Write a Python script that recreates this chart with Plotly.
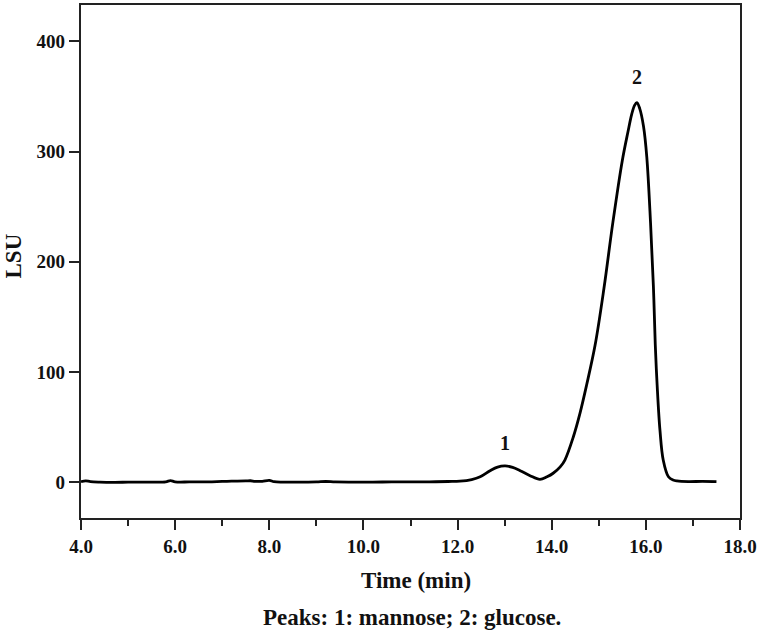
import plotly.graph_objects as go

# chromatogram
time_min = [4.0, 4.1, 4.2, 4.4, 4.7, 5.0, 5.4, 5.8, 5.9, 6.0, 6.3, 6.7, 7.0, 7.2,
            7.5, 7.6, 7.7, 7.85, 8.0, 8.1, 8.3, 8.6, 9.0, 9.2, 9.4, 9.8, 10.2, 10.6,
            11.0, 11.4, 11.8, 12.05, 12.3, 12.48, 12.69, 12.85, 13.01, 13.17, 13.33,
            13.54, 13.75, 13.9, 14.03, 14.18, 14.28, 14.46, 14.60, 14.74, 14.92,
            15.11, 15.30, 15.50, 15.62, 15.70, 15.76, 15.81, 15.87, 15.95,
            16.02, 16.10, 16.16, 16.20, 16.24, 16.30, 16.37, 16.48, 16.58,
            16.66, 16.9, 17.2, 17.5]
lsu = [0.5, 1.3, 0.6, 0.2, 0.0, 0.1, 0.2, 0.4, 1.5, 0.4, 0.3, 0.4, 0.8, 1.0,
       1.2, 1.4, 0.8, 0.9, 1.8, 0.5, 0.2, 0.1, 0.3, 0.7, 0.3, 0.2, 0.2, 0.3,
       0.3, 0.4, 0.7, 1.0, 2.5, 5.0, 10.5, 13.8, 14.8, 13.5, 10.5,
       6.0, 2.7, 5.0, 8.2, 14.0, 20.2, 41.3, 62.5, 88.0, 124.0,
       176.0, 236.0, 292.0, 318.0, 334.0, 342.0, 344.5, 339.0, 323.0,
       295.0, 235.0, 178.0, 125.0, 88.0, 47.0, 20.0, 5.0, 2.0,
       1.2, 0.6, 0.8, 0.6]

peak_labels = ["1", "2"]
peak_x = [13.0, 15.81]
peak_y = [35.6, 367.5]

FONT = "Liberation Serif, Times New Roman, serif"

fig = go.Figure()
fig.add_trace(go.Scatter(
    x=time_min, y=lsu, mode="lines",
    line=dict(color="black", width=2.8, shape="spline", smoothing=1.0),
    showlegend=False, hoverinfo="skip",
))

for lab, px, py in zip(peak_labels, peak_x, peak_y):
    fig.add_annotation(x=px, y=py, text=lab, showarrow=False,
                       font=dict(family=FONT, size=20, color="#111", weight="bold"))

axis_common = dict(
    showline=True, linecolor="#222", linewidth=2.2, mirror=True,
    ticks="outside", tickwidth=2, tickcolor="#222", ticklen=10,
    showgrid=False, zeroline=False, automargin=False,
    tickfont=dict(family=FONT, size=19, color="#111", weight="bold"),
)

fig.update_xaxes(range=[4, 18], dtick=2, tick0=4, tickformat=".1f",
                 minor=dict(ticks="outside", dtick=1, ticklen=6, tickwidth=2, tickcolor="#222"),
                 **axis_common)
fig.update_yaxes(range=[-32.4, 433], dtick=100, tick0=0, **axis_common)

fig.add_annotation(xref="paper", yref="paper", x=0.509, y=-0.121, text="Time (min)",
                   showarrow=False, yanchor="middle",
                   font=dict(family=FONT, size=23, color="#111", weight="bold"))
fig.add_annotation(xref="paper", yref="paper", x=0.503, y=-0.193,
                   text="Peaks: 1: mannose; 2: glucose.",
                   showarrow=False, yanchor="middle",
                   font=dict(family=FONT, size=23, color="#111", weight="bold"))
fig.add_annotation(xref="paper", yref="paper", x=-0.103, y=0.51, text="LSU",
                   showarrow=False, textangle=-90, xanchor="center", yanchor="middle",
                   font=dict(family=FONT, size=23, color="#111", weight="bold"))

fig.update_layout(
    width=760, height=634,
    margin=dict(l=81, r=20, t=5, b=116),
    paper_bgcolor="white", plot_bgcolor="white",
)

# drop the browser's default 8px body margin so the figure sits at the page corner
fig.write_html("out.html", config={"displayModeBar": False},
               post_script="document.body.style.margin='0';")
